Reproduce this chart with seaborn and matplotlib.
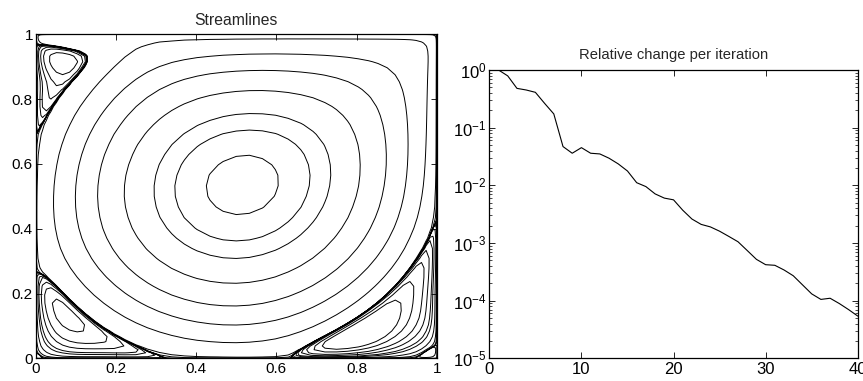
import numpy as np
import pandas as pd
import seaborn as sns
import matplotlib
matplotlib.use("Agg")
import matplotlib.pyplot as plt
from numpy.polynomial import Polynomial as Poly

# Convergence history of the solver (relative change per iteration)
iterations = list(range(1, 41))
rel_change = [1.0, 0.79, 0.48, 0.45, 0.41, 0.264, 0.173, 0.047, 0.036, 0.045,
              0.036, 0.035, 0.0295, 0.0235, 0.0177, 0.0111, 0.0095, 0.0071, 0.006, 0.0056,
              0.0037, 0.0026, 0.0021, 0.0019, 0.0016, 0.0013, 0.00105, 0.00074, 0.00052, 0.00042,
              0.00041, 0.00034, 0.00027, 0.000188, 0.000131, 0.000105, 0.00011, 0.000089, 0.00007, 0.000054]

# Lid-driven cavity parameters and streamline levels
reynolds = 5000
cheb_n = 48
primary_levels = [-0.117, -0.107, -0.097, -0.078, -0.056, -0.034, -0.011]
separatrix_levels = [-1e-4, -1e-5, -1e-7, -1e-10, 1e-8, 1e-7, 1e-6]
secondary_levels = [1e-5, 5e-5, 1e-4, 2.5e-4, 5e-4, 1e-3, 1.6e-3]

x_ticks = [0, 0.2, 0.4, 0.6, 0.8, 1]
x_tick_labels = ["0", "0.2", "0.4", "0.6", "0.8", "1"]
iter_ticks = [0, 10, 20, 30, 40]


def cheb(n):
    x = np.cos(np.pi * np.arange(n + 1) / n)
    c = np.r_[2.0, np.ones(n - 1), 2.0] * (-1.0) ** np.arange(n + 1)
    dx = x[:, None] - x[None, :]
    D = np.outer(c, 1.0 / c) / (dx + np.eye(n + 1))
    D -= np.diag(D.sum(axis=1))
    return D, x


def clamped_ops(n):
    # derivatives of p(x) = (1-x^2) q(x), so p and p' vanish at both walls
    D, x = cheb(n)
    D2 = D @ D
    D3 = D2 @ D
    D4 = D3 @ D
    s = np.zeros(n + 1)
    s[1:-1] = 1.0 / (1.0 - x[1:-1] ** 2)
    S = np.diag(s)
    W = np.diag(1.0 - x ** 2)
    X = np.diag(x)
    I = np.eye(n + 1)
    E1 = (W @ D - 2 * X) @ S
    E2 = (W @ D2 - 4 * X @ D - 2 * I) @ S
    E3 = (W @ D3 - 6 * X @ D2 - 6 * D) @ S
    E4 = (W @ D4 - 8 * X @ D3 - 12 * D2) @ S
    return x, [E[1:-1, 1:-1] for E in (E1, E2, E3, E4)]


def solve_cavity(re_target, n):
    """Steady streamfunction of the lid-driven cavity, Chebyshev collocation + Newton."""
    x, (e1, e2, e3, e4) = clamped_ops(n)
    m = n - 1
    I = np.eye(m)
    Dx = np.kron(I, e1)
    Dy = np.kron(e1, I)
    L4 = np.kron(I, e4) + 2 * np.kron(e2, e2) + np.kron(e4, I)
    Lx = np.kron(I, e3) + np.kron(e2, e1)
    Ly = np.kron(e1, e2) + np.kron(e3, I)

    # lift function carrying the moving lid: psi0 = lid(x) g(y)
    lid = Poly(np.r_[1.0, np.zeros(15), -2.0, np.zeros(15), 1.0])
    g = Poly([1.0, 1.0]) ** 2 * Poly([-1.0, 1.0]) / 4.0
    xi = x[1:-1]
    XX, YY = np.meshgrid(xi, xi)
    XX = XX.ravel()
    YY = YY.ravel()
    d = lambda p, k: p.deriv(k) if k else p
    p0x = d(lid, 1)(XX) * g(YY)
    p0y = lid(XX) * d(g, 1)(YY)
    q0x = d(lid, 3)(XX) * g(YY) + d(lid, 1)(XX) * d(g, 2)(YY)
    q0y = d(lid, 2)(XX) * d(g, 1)(YY) + lid(XX) * d(g, 3)(YY)
    b0 = d(lid, 4)(XX) * g(YY) + 2 * d(lid, 2)(XX) * d(g, 2)(YY)

    v = np.zeros(m * m)
    schedule = [100, 300, 600, 1000, 1500, 2000, 2500, 3000, 3500, 4000, 4500, 5000]
    schedule = [r for r in schedule if r < re_target] + [re_target]
    for re in schedule:
        nu = 2.0 / re
        for _ in range(25):
            ux = Dx @ v + p0x
            uy = Dy @ v + p0y
            wx = Lx @ v + q0x
            wy = Ly @ v + q0y
            F = nu * (L4 @ v + b0) - uy * wx + ux * wy
            J = nu * L4 - uy[:, None] * Lx - wx[:, None] * Dy + ux[:, None] * Ly + wy[:, None] * Dx
            dv = np.linalg.solve(J, F)
            v -= dv
            if np.linalg.norm(dv) < 1e-10 * max(1.0, np.linalg.norm(v)):
                break

    full = np.zeros((n + 1, n + 1))
    full[1:-1, 1:-1] = v.reshape(m, m)
    GX, GY = np.meshgrid(x, x)
    full += lid(GX) * g(GY)
    # map [-1,1]^2 onto the unit square
    xs = (x[::-1] + 1) / 2
    psi = full[::-1, ::-1] / 2
    return xs, psi


xs, psi = solve_cavity(reynolds, cheb_n)

sns.set_theme(style="ticks")
plt.rcParams["font.family"] = ["Liberation Sans", "DejaVu Sans"]
plt.rcParams.update({
    "mathtext.fontset": "custom", "mathtext.rm": "Liberation Sans",
    "mathtext.it": "Liberation Sans:italic", "mathtext.bf": "Liberation Sans:bold",
    "font.size": 11,
    "xtick.direction": "in", "ytick.direction": "in",
    "xtick.top": True, "ytick.right": True,
    "xtick.major.size": 4, "ytick.major.size": 4,
    "xtick.minor.size": 2, "ytick.minor.size": 2,
    "xtick.major.width": 0.6, "ytick.major.width": 0.6,
    "xtick.minor.width": 0.5, "ytick.minor.width": 0.5,
    "xtick.major.pad": 3, "ytick.major.pad": 2,
    "axes.linewidth": 0.9, "axes.edgecolor": "black",
    "xtick.color": "black", "ytick.color": "black",
})

fig = plt.figure(figsize=(8.63, 3.81), dpi=100)
ax1 = fig.add_axes([0.0414, 0.0596, 0.4647, 0.850])
ax2 = fig.add_axes([0.567, 0.0596, 0.4269, 0.7567])

# Streamlines
levels = sorted(primary_levels + separatrix_levels + secondary_levels)
ax1.contour(xs, xs, psi, levels=levels, colors="black",
            linewidths=0.7, linestyles="solid")
ax1.set_xlim(0, 1)
ax1.set_ylim(0, 1)
ax1.set_xticks(x_ticks)
ax1.set_yticks(x_ticks)
ax1.set_xticklabels(x_tick_labels)
ax1.set_yticklabels(x_tick_labels)
ax1.tick_params(labelsize=11)
ax1.set_title("Streamlines", fontsize=11.3, pad=7)

# Convergence history
conv = pd.DataFrame({"iteration": iterations, "change": rel_change})
sns.lineplot(data=conv, x="iteration", y="change", ax=ax2, color="black", linewidth=0.8)
ax2.set_yscale("log")
ax2.set_xlim(0, 40)
ax2.set_ylim(1e-5, 1)
ax2.set_xticks(iter_ticks)
ax2.set_xlabel("")
ax2.set_ylabel("")
ax2.tick_params(labelsize=12)
ax2.set_title("Relative change per iteration", fontsize=10.6, pad=8)

fig.savefig("out.png", dpi=100)
